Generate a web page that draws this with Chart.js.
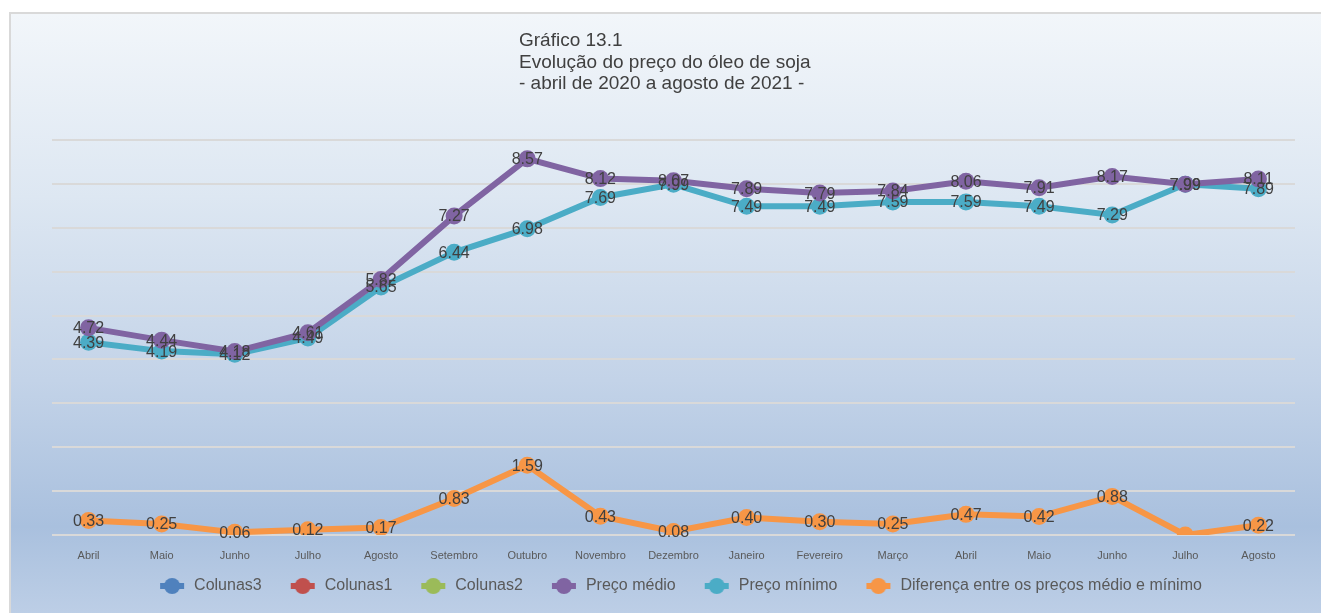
<!DOCTYPE html>
<html>
<head>
<meta charset="utf-8">
<script src="https://cdn.jsdelivr.net/npm/chart.js@4/dist/chart.umd.min.js"></script>
<style>
    html, body { margin: 0; padding: 0; background: #ffffff; }
    #frame {
        position: absolute; left: 9px; top: 12px; width: 1320px; height: 610px;
        border: 2px solid #d9d9d9;
        background: linear-gradient(to bottom, #f2f6fa 0%, #dde7f2 30%, #c3d3e8 60%, #a9c0de 84%, #bfd0e7 100%);
    }
    #wrap { position: absolute; left: 0; top: 0; width: 1321px; height: 613px; }
</style>
</head>
<body>
<div id="frame"></div>
<div id="wrap"><canvas id="lineChart" width="1321" height="613"></canvas></div>
<script>
const months = [
    'Abril', 'Maio', 'Junho', 'Julho', 'Agosto', 'Setembro', 'Outubro', 'Novembro', 'Dezembro',
    'Janeiro', 'Fevereiro', 'Março', 'Abril', 'Maio', 'Junho', 'Julho', 'Agosto'
];
const precoMedio = [4.72, 4.44, 4.18, 4.61, 5.82, 7.27, 8.57, 8.12, 8.07, 7.89, 7.79, 7.84, 8.06, 7.91, 8.17, 7.99, 8.11];
const precoMinimo = [4.39, 4.19, 4.12, 4.49, 5.65, 6.44, 6.98, 7.69, 7.99, 7.49, 7.49, 7.59, 7.59, 7.49, 7.29, 7.99, 7.89];
const diferenca = [0.33, 0.25, 0.06, 0.12, 0.17, 0.83, 1.59, 0.43, 0.08, 0.40, 0.30, 0.25, 0.47, 0.42, 0.88, 0.00, 0.22];
const titleLines = ['Gráfico 13.1', 'Evolução do preço do óleo de soja', '- abril de 2020 a agosto de 2021 -'];

const seriesColors = {
    'Colunas3': '#4F81BD',
    'Colunas1': '#C0504D',
    'Colunas2': '#9BBB59',
    'Preço médio': '#8064A2',
    'Preço mínimo': '#4BACC6',
    'Diferença entre os preços médio e mínimo': '#F79646'
};

// legend marker: short thick line with a dot, with blank room on the left
// so the legend can keep a small padding (keeps it short vertically)
function legendIcon(color) {
    const c = document.createElement('canvas');
    c.width = 41; c.height = 18;
    const g = c.getContext('2d');
    g.fillStyle = color;
    g.fillRect(15, 6, 24, 6);
    g.beginPath();
    g.arc(27, 9, 8, 0, Math.PI * 2);
    g.fill();
    return c;
}

const titlePlugin = {
    id: 'titleText',
    afterDraw(chart) {
        const ctx = chart.ctx;
        ctx.save();
        ctx.font = '19px "Liberation Sans", Arial, sans-serif';
        ctx.fillStyle = '#404040';
        ctx.textAlign = 'left';
        ctx.textBaseline = 'middle';
        titleLines.forEach((t, i) => ctx.fillText(t, 519, 41 + i * 21.5));
        ctx.restore();
    }
};

const valueLabels = {
    id: 'valueLabels',
    afterDatasetsDraw(chart) {
        const ctx = chart.ctx;
        ctx.save();
        ctx.font = '16px "Liberation Sans", Arial, sans-serif';
        ctx.fillStyle = '#404040';
        ctx.textAlign = 'center';
        ctx.textBaseline = 'middle';
        chart.data.datasets.forEach((ds, i) => {
            if (!ds.data.length) return;
            const meta = chart.getDatasetMeta(i);
            meta.data.forEach((pt, j) => {
                const v = ds.data[j];
                if (v === 0) return;
                ctx.fillText(v.toFixed(2), pt.x, pt.y + 1);
            });
        });
        ctx.restore();
    }
};

function lineSet(label, data) {
    const color = seriesColors[label];
    return {
        label: label,
        data: data,
        borderColor: color,
        backgroundColor: color,
        borderWidth: 6,
        pointRadius: 8.5,
        pointHoverRadius: 8.5,
        pointBorderWidth: 0,
        tension: 0,
        fill: false
    };
}

const datasets = [
    lineSet('Colunas3', []),
    lineSet('Colunas1', []),
    lineSet('Colunas2', []),
    lineSet('Preço médio', precoMedio),
    lineSet('Preço mínimo', precoMinimo),
    lineSet('Diferença entre os preços médio e mínimo', diferenca)
];

const cfg = {
    type: 'line',
    data: { labels: months, datasets: datasets },
    options: {
        responsive: false,
        animation: false,
        layout: { padding: { left: 52, right: 26, top: 140, bottom: 9 } },
        scales: {
            x: {
                offset: true,
                grid: { display: false, drawTicks: false },
                border: { display: false },
                ticks: {
                    color: '#595959',
                    padding: 14,
                    autoSkip: false,
                    maxRotation: 0,
                    font: { family: '"Liberation Sans", Arial, sans-serif', size: 11 }
                },
                afterFit(axis) { axis.height = 29; }
            },
            y: {
                min: 0,
                max: 9,
                ticks: { display: false, stepSize: 1 },
                grid: { color: '#d9d9d9', lineWidth: 2, drawTicks: false },
                border: { display: false }
            }
        },
        plugins: {
            legend: {
                position: 'bottom',
                labels: {
                    usePointStyle: true,
                    pointStyleWidth: 41,
                    padding: 14,
                    color: '#595959',
                    font: { family: '"Liberation Sans", Arial, sans-serif', size: 16 },
                    generateLabels(chart) {
                        return chart.data.datasets.map((ds, i) => ({
                            text: ds.label,
                            pointStyle: legendIcon(ds.borderColor),
                            fillStyle: ds.borderColor,
                            strokeStyle: ds.borderColor,
                            lineWidth: 0,
                            fontColor: '#595959',
                            hidden: false,
                            datasetIndex: i
                        }));
                    }
                }
            },
            tooltip: { enabled: false },
            title: { display: false }
        }
    },
    plugins: [valueLabels, titlePlugin]
};

new Chart(document.getElementById('lineChart'), cfg);
</script>
</body>
</html>
